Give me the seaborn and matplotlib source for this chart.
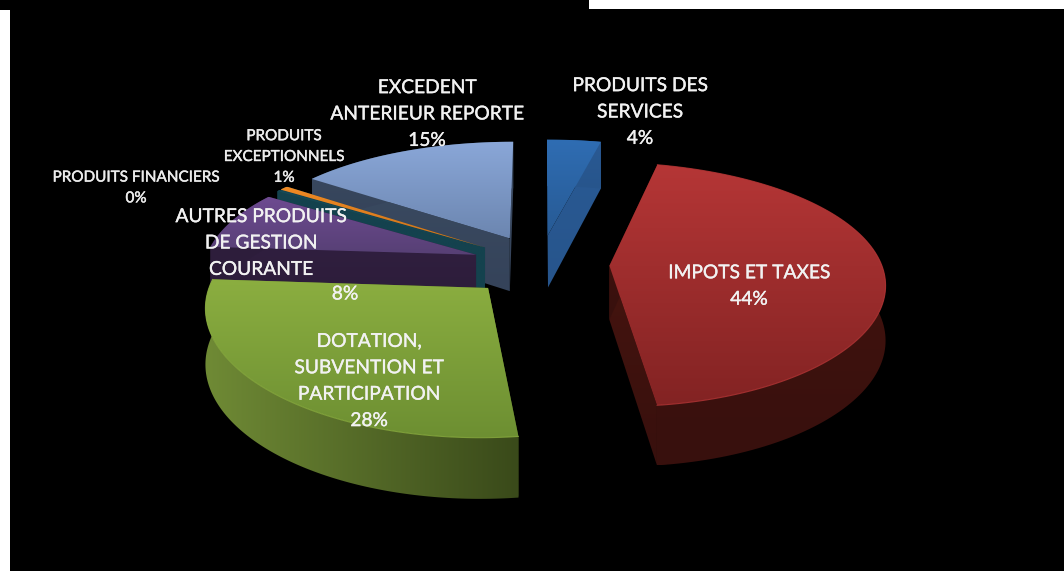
"""Budget receipts shown as an exploded 3D pie on a black slide."""
import numpy as np
import matplotlib
matplotlib.use("Agg")
import matplotlib.pyplot as plt
import matplotlib.patheffects as pe
from matplotlib.patches import Polygon, Rectangle
import seaborn as sns

categories = ["PRODUITS DES\nSERVICES", "IMPOTS ET TAXES",
              "DOTATION,\nSUBVENTION ET\nPARTICIPATION",
              "AUTRES PRODUITS\nDE GESTION\nCOURANTE", "PRODUITS FINANCIERS",
              "PRODUITS\nEXCEPTIONNELS", "EXCEDENT\nANTERIEUR REPORTE"]
values = [3.7, 44.4, 28.0, 8.0, 0.2, 0.6, 15.1]
explode = [0.25, 0.255, 0.27, 0.25, 0.25, 0.25, 0.25]
top_colors = [("#2f6db3", "#275a94"), ("#b53636", "#832323"), ("#8bae40", "#6d8f32"),
              ("#6d4a90", "#574075"), ("#174a57", "#174a57"), ("#f08a24", "#c9701a"),
              ("#8aa7d8", "#6c86b0")]
wall_colors = [("#2a5a94", "#27558c"), ("#45140f", "#38100d"), ("#6f8a35", "#3a4a1a"),
               ("#301f3f", "#2c1c39"), ("#14424e", "#14424e"), ("#14424e", "#14424e"),
               ("#3a4a60", "#35435a")]
draw_order = [6, 5, 4, 3, 0, 1, 2]

sns.set_theme(style="white")
plt.rcParams["font.family"] = ["Lato", "DejaVu Sans"]

CX, CY = 540.0, 264.0
A, B = 272.0, 118.7
KX, KY = 0.13, 0.153


def project(x, y):
    return CX + A * x / (1 + KX * y), CY - B * y / (1 + KY * y)


def depth(y):
    return 54 - 6 * y


def shade(ax, verts, c0, c1, horizontal=False):
    # gradient image clipped to the polygon
    verts = np.asarray(verts)
    rgb = np.array([matplotlib.colors.to_rgb(c0), matplotlib.colors.to_rgb(c1)])
    ramp = np.linspace(0, 1, 64)[:, None]
    img = rgb[0] * (1 - ramp) + rgb[1] * ramp
    img = img[None, :, :] if horizontal else img[:, None, :]
    x0, y0 = verts.min(axis=0)
    x1, y1 = verts.max(axis=0)
    im = ax.imshow(img, extent=(x0, x1, y1, y0), aspect="auto", interpolation="bilinear")
    patch = Polygon(verts, closed=True, transform=ax.transData, facecolor="none", edgecolor="none")
    ax.add_patch(patch)
    im.set_clip_path(patch)


fig = plt.figure(figsize=(10.64, 5.71), dpi=100, facecolor="black")
ax = fig.add_axes([0, 0, 1, 1])

# the pie gives each slice its angles and exploded centre, then they are projected
wedges, _ = ax.pie(values, explode=explode, startangle=90, counterclock=False)
geometry = []
for wedge in wedges:
    geometry.append((wedge.center, wedge.theta1, wedge.theta2))
    wedge.set_visible(False)

ax.set_aspect("auto")
ax.set_facecolor("black")
ax.axis("off")

for i in draw_order:
    (ox, oy), t1, t2 = geometry[i]
    theta = np.radians(np.linspace(t1, t2, 120))
    rim_x, rim_y = ox + np.cos(theta), oy + np.sin(theta)
    top_x, top_y = project(rim_x, rim_y)
    apex = project(ox, oy)
    low_rim = top_y + depth(rim_y)
    low_apex = apex[1] + depth(oy)

    # radial walls first, the rim wall and the top face go over them
    horizontal = i == 2
    for k in (0, -1):
        wall = [apex, (top_x[k], top_y[k]), (top_x[k], low_rim[k]), (apex[0], low_apex)]
        shade(ax, wall, wall_colors[i][0], wall_colors[i][1], horizontal)
    rim_wall = np.vstack([np.column_stack([top_x, top_y]),
                          np.column_stack([top_x, low_rim])[::-1]])
    shade(ax, rim_wall, wall_colors[i][0], wall_colors[i][1], horizontal)
    face = np.vstack([[apex], np.column_stack([top_x, top_y])])
    shade(ax, face, top_colors[i][0], top_colors[i][1])
    if i in (1, 2):
        ax.plot(top_x, top_y, color=top_colors[i][0], lw=0.8, alpha=0.8)

# white paper showing around the slide
ax.add_patch(Rectangle((0, 10), 10, 561, facecolor="white", edgecolor="none", zorder=5))
ax.add_patch(Rectangle((589, 0), 475, 9, facecolor="white", edgecolor="none", zorder=5))

ax.set_xlim(0, 1064)
ax.set_ylim(571, 0)

big = {"fontsize": 13.8, "color": "#f2f2f2", "ha": "center", "va": "center", "zorder": 6,
       "linespacing": 1.67, "path_effects": [pe.withStroke(linewidth=0.25, foreground="#f2f2f2")]}
small = {"fontsize": 11.0, "color": "#ececec", "ha": "center", "va": "center", "zorder": 6,
         "linespacing": 1.62, "path_effects": [pe.withStroke(linewidth=0.3, foreground="#ececec")]}
percents = [f"{v:.0f}%" for v in values]
ax.text(640, 112, f"{categories[0]}\n{percents[0]}", **big)
ax.text(749, 286, f"{categories[1]}\n{percents[1]}", **big)
ax.text(369, 381, f"{categories[2]}\n{percents[2]}", **big)
# this one label keeps its percentage well to the right of the name
ax.text(261, 243, categories[3], **big)
ax.text(345, 294, percents[3], **big)
ax.text(136, 188, f"{categories[4]}\n{percents[4]}", **small)
ax.text(284, 157, f"{categories[5]}\n{percents[5]}", **small)
ax.text(427, 114, f"{categories[6]}\n{percents[6]}", **big)

fig.savefig("out.png", dpi=100, facecolor="black")
